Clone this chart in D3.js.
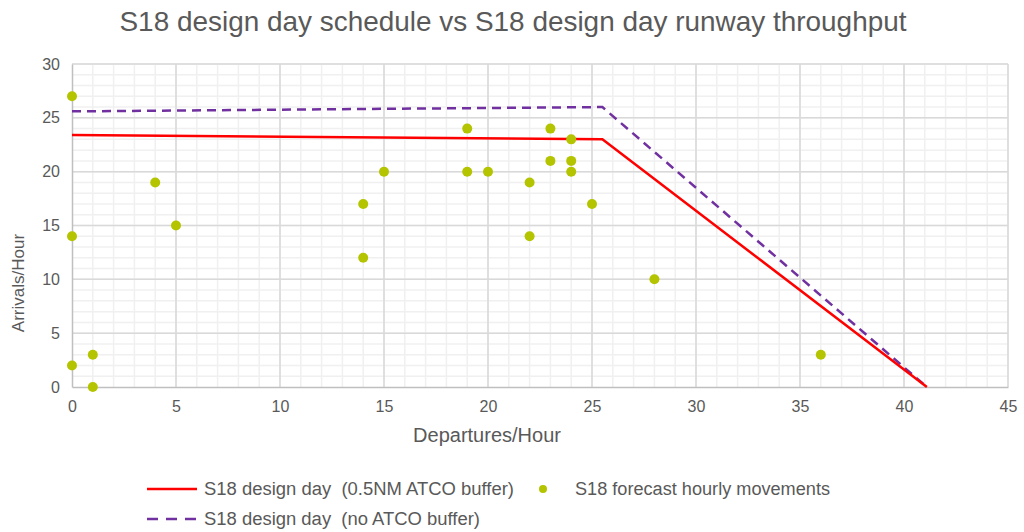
<!DOCTYPE html>
<html>
<head>
<meta charset="utf-8">
<script src="https://cdn.jsdelivr.net/npm/d3@7"></script>
<style>
  body { margin: 0; background: #fff; }
  text { font-family: "Liberation Sans", Arial, sans-serif; fill: #595959; white-space: pre; }
</style>
</head>
<body>
<div id="chart"></div>
<script>
// data
var bufferLine = [[0, 23.4], [25.5, 23], [41.1, 0]];
var noBufferLine = [[0, 25.6], [25.5, 26], [41.1, 0]];
var departures = [0, 0, 0, 1, 1, 4, 5, 14, 14, 15, 19, 19, 20, 22, 22, 23, 23, 24, 24, 24, 25, 28, 36];
var arrivals   = [27, 14, 2, 3, 0, 19, 15, 17, 12, 20, 24, 20, 20, 19, 14, 24, 21, 23, 21, 20, 17, 10, 3];
var xTicks = [0, 5, 10, 15, 20, 25, 30, 35, 40, 45];
var yTicks = [0, 5, 10, 15, 20, 25, 30];

var svgWidth = 1024, svgHeight = 532;
var margin = { top: 64, right: 16, bottom: 145, left: 72 };
var width = svgWidth - margin.left - margin.right;
var height = svgHeight - margin.top - margin.bottom;

var svg = d3.select("#chart").append("svg")
  .attr("width", svgWidth)
  .attr("height", svgHeight);

var g = svg.append("g")
  .attr("transform", `translate(${margin.left}, ${margin.top})`);

var x = d3.scaleLinear().domain([0, 45]).range([0, width]);
var y = d3.scaleLinear().domain([0, 30]).range([height, 0]);

// minor grid
g.append("g").selectAll("line").data(d3.range(1, 46)).enter().append("line")
  .attr("x1", d => x(d)).attr("x2", d => x(d))
  .attr("y1", 0).attr("y2", height)
  .attr("stroke", "#f0f0f0").attr("stroke-width", 1.5);
g.append("g").selectAll("line").data(d3.range(1, 31)).enter().append("line")
  .attr("x1", 0).attr("x2", width)
  .attr("y1", d => y(d)).attr("y2", d => y(d))
  .attr("stroke", "#f0f0f0").attr("stroke-width", 1.5);

// major grid
g.append("g").selectAll("line").data(xTicks.slice(1)).enter().append("line")
  .attr("x1", d => x(d)).attr("x2", d => x(d))
  .attr("y1", 0).attr("y2", height)
  .attr("stroke", "#d9d9d9").attr("stroke-width", 1.5);
g.append("g").selectAll("line").data(yTicks.slice(1)).enter().append("line")
  .attr("x1", 0).attr("x2", width)
  .attr("y1", d => y(d)).attr("y2", d => y(d))
  .attr("stroke", "#d9d9d9").attr("stroke-width", 1.5);

// axes
var xAxis = g.append("g")
  .attr("transform", `translate(0, ${height})`)
  .call(d3.axisBottom(x).tickValues(xTicks).tickSize(0).tickPadding(14));
var yAxis = g.append("g")
  .call(d3.axisLeft(y).tickValues(yTicks).tickSize(0).tickPadding(12));
[xAxis, yAxis].forEach(function(a) {
  a.select(".domain").attr("stroke", "#bfbfbf").attr("stroke-width", 1.5);
  a.selectAll("text").style("font-size", "16px").attr("fill", "#595959")
    .style("font-family", "'Liberation Sans', Arial, sans-serif");
});

var line = d3.line().x(d => x(d[0])).y(d => y(d[1]));

g.append("path").datum(noBufferLine)
  .attr("d", line).attr("fill", "none")
  .attr("stroke", "#7030a0").attr("stroke-width", 2.5)
  .attr("stroke-dasharray", "9,6");

g.append("path").datum(bufferLine)
  .attr("d", line).attr("fill", "none")
  .attr("stroke", "#ff0000").attr("stroke-width", 2.5);

g.selectAll("circle").data(departures).enter().append("circle")
  .attr("cx", d => x(d))
  .attr("cy", (d, i) => y(arrivals[i]))
  .attr("r", 5)
  .attr("fill", "#b4c400");

// titles
svg.append("text")
  .attr("x", 513).attr("y", 31)
  .attr("text-anchor", "middle")
  .style("font-size", "28px")
  .attr("textLength", 787)
  .attr("lengthAdjust", "spacingAndGlyphs")
  .text("S18 design day schedule vs S18 design day runway throughput");

svg.append("text")
  .attr("transform", "translate(24, 283) rotate(-90)")
  .attr("text-anchor", "middle")
  .style("font-size", "17px")
  .text("Arrivals/Hour");

svg.append("text")
  .attr("x", 487).attr("y", 442)
  .attr("text-anchor", "middle")
  .style("font-size", "20px")
  .text("Departures/Hour");

// legend
var legend = svg.append("g");
legend.append("line")
  .attr("x1", 147).attr("x2", 197).attr("y1", 489).attr("y2", 489)
  .attr("stroke", "#ff0000").attr("stroke-width", 2.5);
legend.append("text").attr("x", 204).attr("y", 495)
  .style("font-size", "18px")
  .attr("textLength", 310).attr("lengthAdjust", "spacingAndGlyphs")
  .text("S18 design day  (0.5NM ATCO buffer)");
legend.append("circle").attr("cx", 543).attr("cy", 489).attr("r", 4)
  .attr("fill", "#b4c400");
legend.append("text").attr("x", 575).attr("y", 495)
  .style("font-size", "18px")
  .attr("textLength", 255).attr("lengthAdjust", "spacingAndGlyphs")
  .text("S18 forecast hourly movements");
legend.append("line")
  .attr("x1", 147).attr("x2", 197).attr("y1", 519).attr("y2", 519)
  .attr("stroke", "#7030a0").attr("stroke-width", 2.5)
  .attr("stroke-dasharray", "11,8");
legend.append("text").attr("x", 204).attr("y", 525)
  .style("font-size", "18px")
  .attr("textLength", 276).attr("lengthAdjust", "spacingAndGlyphs")
  .text("S18 design day  (no ATCO buffer)");
</script>
</body>
</html>
